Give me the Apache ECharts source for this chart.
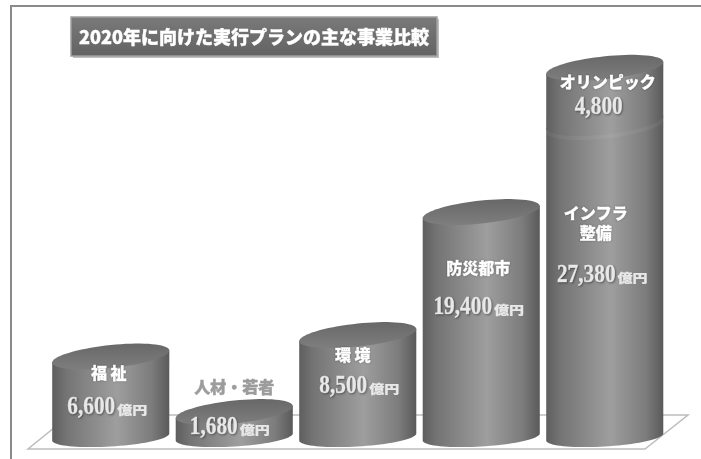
<!DOCTYPE html>
<html><head><meta charset="utf-8">
<script src="https://cdn.jsdelivr.net/npm/echarts@6/dist/echarts.min.js"></script>
<style>html,body{margin:0;padding:0;background:#fff}#c{width:701px;height:459px}</style>
</head><body><div id="c"></div>
<script>
// ---- data ----
const categories = ['福祉', '人材・若者', '環境', '防災都市', 'インフラ整備'];
const nameLabels = ['福 祉', '人材・若者', '環 境', '防災都市', 'インフラ\n整備'];
const mainValues = [6600, 1680, 8500, 19400, 27380];
const olympicValues = [0, 0, 0, 0, 4800];
const olympicLabel = 'オリンピック';
const unitText = '億円';
const titleText = '2020年に向けた実行プランの主な事業比較';

// ---- label layout (pixel offsets from segment top) ----
const labelLayout = [
  { nameDy: 16, nameDx: -2, valDy: 51, valDx: -3, nameColor: '#ffffff' },
  { nameDy: -25, nameDx: 0, valDy: 15, valDx: -4, nameColor: '#9c9c9c' },
  { nameDy: 20, nameDx: -5, valDy: 51, valDx: 2, nameColor: '#ffffff' },
  { nameDy: 56, nameDx: -3, valDy: 95, valDx: -2, nameColor: '#ffffff' },
  { nameDy: 101, nameDx: -9, valDy: 153, valDx: -2, nameColor: '#ffffff' }
];
const olyLayout = { nameDy: 14, nameDx: 3, valDy: 39, valDx: -6 };

const seriesData = [];
categories.forEach((c, i) => {
  seriesData.push([i, 0, mainValues[i], 0, olympicValues[i] > 0 ? 0 : 1]);
});
categories.forEach((c, i) => {
  if (olympicValues[i] > 0) seriesData.push([i, mainValues[i], mainValues[i] + olympicValues[i], 1, 1]);
});

const mctx = document.createElement('canvas').getContext('2d');
function tw(font, s) { mctx.font = font; return mctx.measureText(s).width; }
const fmt = v => v.toLocaleString('en-US');

const DIGIT_FONT = "bold 26px 'Liberation Serif'";
const SX = 0.82;
const CJK = 'Noto Sans CJK JP';

function valueLabel(cx, cy, num, withUnit) {
  const dW = tw(DIGIT_FONT, num) * SX;
  const uW = withUnit ? 31 : 0;
  const total = dW + (withUnit ? 2 : 0) + uW;
  const x0 = cx - total / 2;
  const els = [{
    type: 'text', x: x0, y: cy, scaleX: SX, z2: 20,
    style: { text: num, fill: '#e8e8e8', fontSize: 26, fontFamily: 'Liberation Serif', fontWeight: 'bold',
      align: 'left', verticalAlign: 'middle', stroke: '#e8e8e8', lineWidth: 0.4,
      textShadowColor: 'rgba(0,0,0,0.35)', textShadowBlur: 2, textShadowOffsetX: 1, textShadowOffsetY: 1 }
  }];
  if (withUnit) {
    els.push({
      type: 'text', x: x0 + dW + 2, y: cy + 3, scaleX: 1.0, scaleY: 0.82, z2: 20,
      style: { text: unitText, fill: '#e8e8e8', fontSize: 15, fontFamily: CJK, fontWeight: 900,
        align: 'left', verticalAlign: 'middle', stroke: '#e8e8e8', lineWidth: 0.3 }
    });
  }
  return els;
}

function ell(cx, cy, rx, ry, s, t0, t1, n) {
  const pts = [];
  for (let k = 0; k <= n; k++) {
    const t = t0 + (t1 - t0) * k / n;
    pts.push([cx + rx * Math.cos(t), cy + ry * Math.sin(t) - s * Math.cos(t)]);
  }
  return pts;
}

function bodyGrad() {
  return new echarts.graphic.LinearGradient(0, 0, 1, 0, [
    { offset: 0, color: '#5e5e5e' },
    { offset: 0.12, color: '#747474' },
    { offset: 0.55, color: '#9e9e9e' },
    { offset: 0.85, color: '#7c7c7c' },
    { offset: 1, color: '#5a5a5a' }
  ]);
}

function renderItem(params, api) {
  const i = api.value(0), start = api.value(1), end = api.value(2), kind = api.value(3), capped = api.value(4);
  const top = api.coord([i, end]);
  const base = api.coord([i, start]);
  const band = api.size([1, 0])[0];
  const cx = top[0], rx = band * 0.474;
  const yTop = top[1];
  const yBot = kind === 0 ? base[1] + 6 : base[1];
  const sT = 6, sB = kind === 0 ? 3.5 : sT;
  const ryT = 11.5, ryB = kind === 0 ? 9.5 : ryT;
  const children = [];
  const bodyPts = [[cx - rx, yTop + sT]].concat(ell(cx, yBot, rx, ryB, sB, Math.PI, 0, 40)).concat([[cx + rx, yTop - sT]]);
  children.push({ type: 'polygon', shape: { points: bodyPts }, style: { fill: bodyGrad() } });
  if (kind === 1) {
    children.push({ type: 'polyline', shape: { points: ell(cx, yBot + 3, rx - 1, ryB, sB, Math.PI, 0, 40) },
      style: { stroke: 'rgba(255,255,255,0.05)', lineWidth: 4, fill: null } });
  }
  if (capped) {
    children.push({ type: 'polygon', shape: { points: ell(cx, yTop, rx, ryT, sT, 0, Math.PI * 2, 72) },
      style: { fill: new echarts.graphic.LinearGradient(0, 0, 0, 1, [
        { offset: 0, color: '#686868' }, { offset: 1, color: '#7e7e7e' }]) } });
  }
  const nameStyle = (text, color) => ({
    text, fill: color, fontSize: 16, fontFamily: CJK, fontWeight: 900,
    align: 'center', verticalAlign: 'middle', lineHeight: 20, stroke: color, lineWidth: 0.4,
    textShadowColor: color === '#ffffff' ? 'rgba(0,0,0,0.3)' : 'transparent', textShadowBlur: 2
  });
  if (kind === 0) {
    const L = labelLayout[i];
    children.push({ type: 'text', x: cx + L.nameDx, y: yTop + L.nameDy, z2: 20, style: nameStyle(nameLabels[i], L.nameColor) });
    valueLabel(cx + L.valDx, yTop + L.valDy, fmt(mainValues[i]), true).forEach(e => children.push(e));
  } else {
    const L = olyLayout;
    children.push({ type: 'text', x: cx + L.nameDx, y: yTop + L.nameDy, z2: 20, style: nameStyle(olympicLabel, '#ffffff') });
    valueLabel(cx + L.valDx, yTop + L.valDy, fmt(olympicValues[i]), false).forEach(e => children.push(e));
  }
  return { type: 'group', children };
}

const chart = echarts.init(document.getElementById('c'), null, { renderer: 'canvas' });
chart.setOption({
  animation: false,
  backgroundColor: '#ffffff',
  grid: { left: 49, right: 34.5, top: 36, bottom: 28 },
  xAxis: { type: 'category', data: categories, show: false },
  yAxis: { type: 'value', min: 0, max: 35000, show: false, splitLine: { show: false } },
  graphic: [
    { type: 'polyline', z: 0, shape: { points: [[11, 459], [11, 6], [701, 6]] }, style: { stroke: '#8a8a8a', lineWidth: 2, fill: null } },
    { type: 'polygon', z: 0, shape: { points: [[28, 449], [645, 449], [688, 415], [70, 415]] }, style: { fill: '#ffffff', stroke: '#bdbdbd', lineWidth: 1.5 } },
    { type: 'rect', z: 0, shape: { x: 73, y: 19, width: 366, height: 39 }, style: { fill: '#bfbfbf' } },
    { type: 'rect', z: 0, shape: { x: 71, y: 17, width: 366, height: 39 },
      style: { fill: new echarts.graphic.LinearGradient(0, 0, 0, 1, [{ offset: 0, color: '#7a7a7a' }, { offset: 1, color: '#626262' }]), stroke: '#a0a0a0', lineWidth: 1.5 } },
    { type: 'text', z: 1, x: 254, y: 37, style: { text: titleText, fill: '#ffffff', fontSize: 18, fontFamily: CJK, fontWeight: 900, align: 'center', verticalAlign: 'middle', stroke: '#ffffff', lineWidth: 0.4 } }
  ],
  series: [{
    type: 'custom', z: 2, renderItem,
    encode: { x: 0, y: [1, 2] },
    data: seriesData
  }]
});
</script></body></html>
